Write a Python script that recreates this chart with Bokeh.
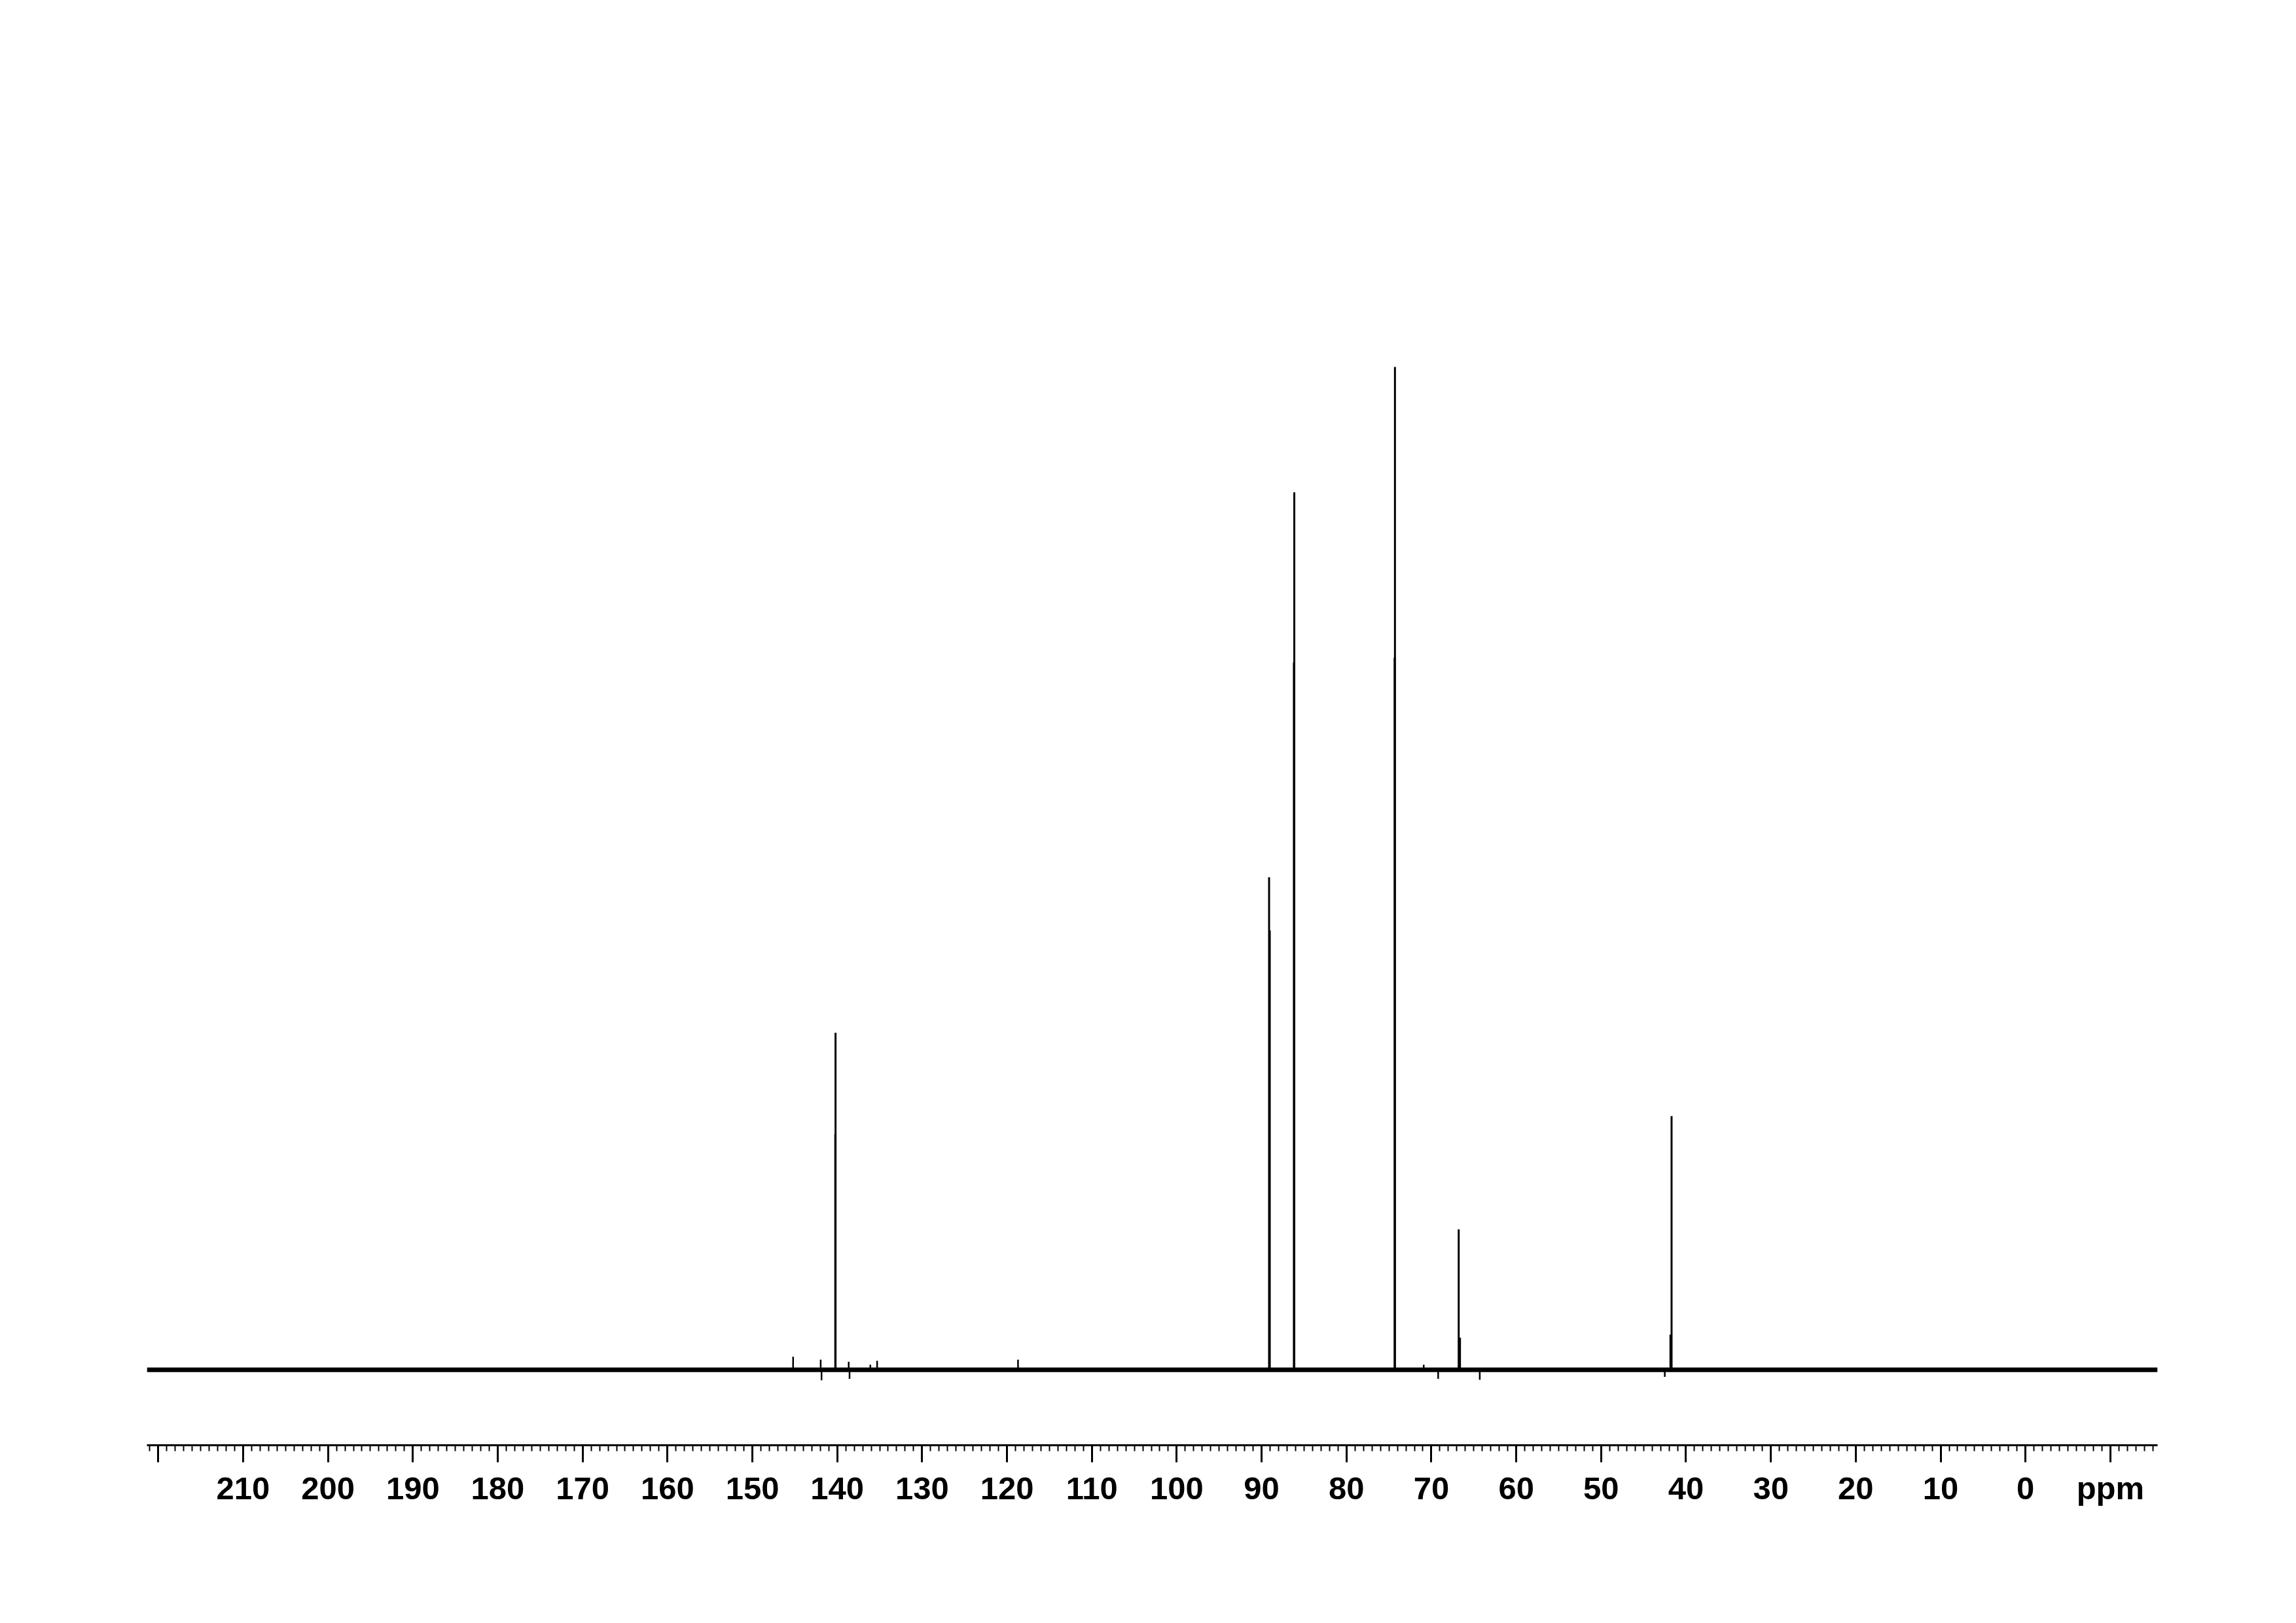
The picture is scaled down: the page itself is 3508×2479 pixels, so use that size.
from bokeh.plotting import figure
from bokeh.models import Range1d, FixedTicker
from bokeh.embed import file_html
from bokeh.resources import INLINE

# Main resonances (ppm, relative intensity; tallest = 100)
peak_ppm = [140.20, 89.12, 86.15, 74.29, 66.78, 41.70]
peak_height = [33.6, 49.1, 87.5, 100.0, 14.0, 25.3]

# Lower shoulders of the main lines (slightly offset components)
shoulder_ppm = [140.23, 89.04, 86.20, 74.33, 66.63, 41.83]
shoulder_height = [23.5, 43.8, 70.5, 71.0, 3.2, 3.5]

# Small artefacts / impurity signals on the baseline
small_ppm = [145.2, 141.95, 141.85, 138.65, 138.55, 136.1, 135.3, 118.7, 70.9, 69.2, 64.3, 42.5]
small_height = [1.3, 1.0, -1.05, 0.8, -0.9, 0.5, 0.9, 1.0, 0.5, -0.9, -1.0, -0.7]

# Spectral window
ppm_left = 221.33
ppm_right = -15.56

# Axis ticks
tick_values = [220, 210, 200, 190, 180, 170, 160, 150, 140, 130, 120, 110,
               100, 90, 80, 70, 60, 50, 40, 30, 20, 10, 0, -10]
tick_labels = ["", "210", "200", "190", "180", "170", "160", "150", "140", "130",
               "120", "110", "100", "90", "80", "70", "60", "50", "40", "30",
               "20", "10", "0", "ppm"]
minor_values = list(range(-15, 222))

p = figure(width=3490, height=2460,
           x_range=Range1d(ppm_left, ppm_right),
           y_range=Range1d(-7.53, 130.03),
           output_backend="svg", toolbar_location=None,
           y_axis_location=None,
           min_border_left=224, min_border_right=194,
           min_border_top=100, min_border_bottom=253)
p.grid.visible = False
p.outline_line_color = None
p.background_fill_color = "white"
p.border_fill_color = "white"

# baseline (noise band)
p.line(x=[ppm_left, ppm_right], y=[0, 0], line_color="black", line_width=7)
# small features
p.segment(x0=small_ppm, y0=[0] * len(small_ppm), x1=small_ppm, y1=small_height,
          line_color="black", line_width=2.5)
# shoulders
p.segment(x0=shoulder_ppm, y0=[0] * len(shoulder_ppm), x1=shoulder_ppm, y1=shoulder_height,
          line_color="black", line_width=3)
# main peaks
p.segment(x0=peak_ppm, y0=[0] * len(peak_ppm), x1=peak_ppm, y1=peak_height,
          line_color="black", line_width=3)

ax = p.xaxis[0]
ax.ticker = FixedTicker(ticks=tick_values, minor_ticks=minor_values)
ax.major_label_overrides = {v: lab for v, lab in zip(tick_values, tick_labels)}
ax.axis_line_width = 3
ax.axis_line_color = "black"
ax.major_tick_line_width = 3
ax.major_tick_line_color = "black"
ax.major_tick_in = 0
ax.major_tick_out = 26
ax.minor_tick_line_width = 2
ax.minor_tick_line_color = "black"
ax.minor_tick_in = 0
ax.minor_tick_out = 9
ax.major_label_text_font = "Liberation Sans"
ax.major_label_text_font_style = "bold"
ax.major_label_text_font_size = "49px"
ax.major_label_text_color = "black"
ax.major_label_standoff = 12

open("out.html", "w").write(file_html(p, INLINE))
